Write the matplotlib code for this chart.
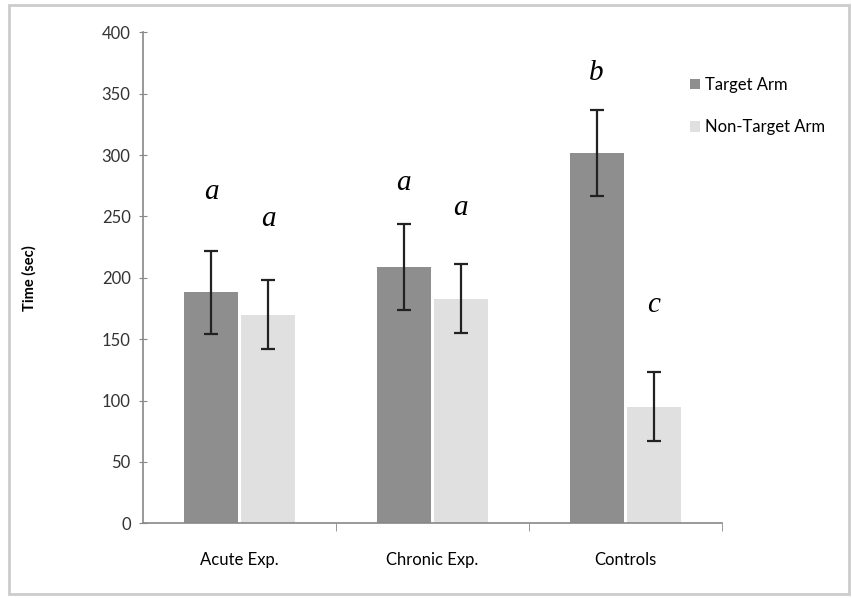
import numpy as np
import matplotlib.pyplot as plt
from matplotlib.patches import Rectangle

# data
groups = ['Acute Exp.', 'Chronic Exp.', 'Controls']
target = [188, 209, 302]
target_err = [34, 35, 35]
nontarget = [170, 183, 95]
nontarget_err = [28, 28, 28]
target_letters = ['a', 'a', 'b']
nontarget_letters = ['a', 'a', 'c']
target_letter_y = [270, 277, 367]
nontarget_letter_y = [248, 257, 178]

plt.rcParams['font.family'] = ['Lato', 'DejaVu Sans']

fig = plt.figure(figsize=(8.52, 5.98), dpi=100)
ax = fig.add_axes([0.168, 0.125, 0.679, 0.821])

# grey frame around the whole figure
fig.patches.append(Rectangle((0.01, 0.006), 0.986, 0.985, transform=fig.transFigure,
                             fill=False, edgecolor='#cccccc', linewidth=2))

x = np.arange(len(groups))
w = 0.28
gap = 0.008
ax.bar(x - w / 2 - gap, target, w, color='#8e8e8e', label='Target Arm')
ax.bar(x + w / 2 + gap, nontarget, w, color='#e0e0e0', label='Non-Target Arm')
ax.errorbar(x - w / 2 - gap, target, yerr=target_err, fmt='none', ecolor='#222222',
            elinewidth=1.6, capsize=5, capthick=1.6)
ax.errorbar(x + w / 2 + gap, nontarget, yerr=nontarget_err, fmt='none', ecolor='#222222',
            elinewidth=1.6, capsize=5, capthick=1.6)

# significance letters
for i in range(len(groups)):
    ax.text(x[i] - w / 2 - gap, target_letter_y[i], target_letters[i], ha='center', va='center',
            fontsize=21, style='italic', family='Liberation Serif')
    ax.text(x[i] + w / 2 + gap, nontarget_letter_y[i], nontarget_letters[i], ha='center', va='center',
            fontsize=21, style='italic', family='Liberation Serif')

ax.set_xlim(-0.5, 2.5)
ax.set_ylim(0, 400)
ax.set_yticks(range(0, 401, 50))
ax.set_xticks(x)
ax.set_xticklabels(groups, fontsize=12)
ax.tick_params(axis='x', length=0, pad=21)
ax.set_xticks([0.5, 1.5, 2.5], minor=True)
ax.tick_params(axis='x', which='minor', length=6, color='#888888', direction='out')
ax.tick_params(axis='y', length=6, direction='inout', color='#888888', labelsize=12, pad=6)
for lab in ax.get_yticklabels():
    lab.set_color('#333333')

for s in ['top', 'right']:
    ax.spines[s].set_visible(False)
for s in ['left', 'bottom']:
    ax.spines[s].set_color('#888888')
    ax.spines[s].set_linewidth(1.2)

ax.set_ylabel('Time (sec)', fontsize=10.5, fontweight='bold', labelpad=18)
ax.yaxis.set_label_coords(-0.185, 0.5)

ax.legend(loc='upper left', bbox_to_anchor=(0.92, 0.94), frameon=False, fontsize=12,
          handlelength=0.6, handleheight=0.6, handletextpad=0.3, labelspacing=1.6)

fig.savefig('out.png', dpi=100)
